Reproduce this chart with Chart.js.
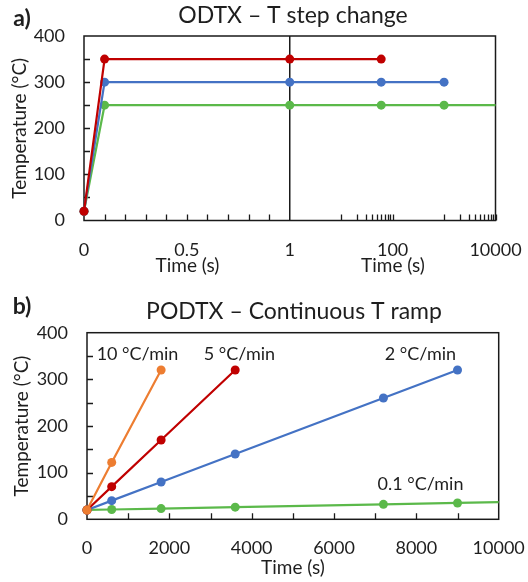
<!DOCTYPE html>
<html><head><meta charset="utf-8">
<script src="https://cdn.jsdelivr.net/npm/chart.js@4"></script>
<style>
html,body{margin:0;padding:0;background:#fff;width:528px;height:582px;overflow:hidden}
canvas{position:absolute;left:0}
#ca{top:0}
#cb{top:275px}
</style></head><body>
<canvas id="ca" width="528" height="275"></canvas>
<canvas id="cb" width="528" height="307"></canvas>
<script>
const FONT = 'Lato, "Open Sans", sans-serif';
const TXT = '#1e1e1e';

// ---------- Panel a data ----------
const aTimeRed = [0, 0.1, 1, 60];
const aTempRed = [20, 350, 350, 350];
const aTimeBlue = [0, 0.1, 1, 60, 1000];
const aTempBlue = [20, 300, 300, 300, 300];
const aTimeGreen = [0, 0.1, 1, 60, 1000, 10000];
const aTempGreen = [20, 250, 250, 250, 250, 250];
const aTickValues = [0, 0.5, 1, 100, 10000];
const aTickLabels = ['0', '0.5', '1', '100', '10000'];
const aMinorTicks = [0.1,0.2,0.3,0.4,0.5,0.6,0.7,0.8,0.9,
  10,20,30,40,50,60,70,80,90,100,1000,2000,3000,4000,5000,6000,7000,8000,9000,10000];
const yTicksMinor = [50,100,150,200,250,300,350];

// ---------- Panel b data ----------
const bTimeOrange = [0, 600, 1800];
const bTempOrange = [20, 122, 320];
const bTimeRed = [0, 600, 1800, 3600];
const bTempRed = [20, 70, 170, 320];
const bTimeBlue = [0, 600, 1800, 3600, 7200, 9000];
const bTempBlue = [20, 40, 80, 140, 260, 320];
const bTimeGreen = [0, 600, 1800, 3600, 7200, 9000, 10000];
const bTempGreen = [20, 21, 23, 26, 32, 35, 36.7];
const bMinorTicks = [1000,2000,3000,4000,5000,6000,7000,8000,9000];
const bRateLabels = ['10 °C/min', '5 °C/min', '2 °C/min', '0.1 °C/min'];
const bRateAnchors = [[1227, 354], [3704, 354], [8100, 354], [8100, 76]];

const C_RED = '#C00000', C_BLUE = '#4472C4', C_GREEN = '#5BB94A', C_ORANGE = '#ED7D31';

// split axis: linear 0..1, then log10 1..10000 mapped onto 1..2
function tx(v) { return v <= 1 ? v : 1 + Math.log10(v) / 4; }

function pts(xs, ys, f) { return xs.map((x, i) => ({x: f ? f(x) : x, y: ys[i]})); }

function ds(data, color, hideLast) {
  return {
    data, borderColor: color, backgroundColor: color,
    pointBackgroundColor: color, pointBorderWidth: 0,
    pointRadius: hideLast ? data.map((d, i) => i === data.length - 1 ? 0 : 4.5) : 4.5,
    borderWidth: 2.2, tension: 0, clip: false
  };
}

function framePlugin(cfg) {
  return {
    id: 'frame',
    beforeDatasetsDraw(chart) {
      const {ctx, chartArea: a, scales} = chart;
      const xs = scales.x, ys = scales.y;
      ctx.save();
      ctx.strokeStyle = '#1a1a1a';
      ctx.lineWidth = 1.3;
      ctx.beginPath();
      cfg.xTicks.forEach(v => {
        const p = Math.round(xs.getPixelForValue(cfg.xf ? cfg.xf(v) : v)) + 0.5;
        ctx.moveTo(p, a.bottom); ctx.lineTo(p, a.bottom - 6);
      });
      yTicksMinor.forEach(v => {
        const p = Math.round(ys.getPixelForValue(v)) + 0.5;
        ctx.moveTo(a.left, p); ctx.lineTo(a.left + 6, p);
      });
      ctx.stroke();
      if (cfg.divider !== undefined) {
        ctx.lineWidth = 1.5;
        const p = xs.getPixelForValue(cfg.divider);
        ctx.beginPath(); ctx.moveTo(p, a.top); ctx.lineTo(p, a.bottom); ctx.stroke();
      }
      ctx.lineWidth = 1.5;
      ctx.strokeRect(a.left, a.top, a.right - a.left, a.bottom - a.top);
      ctx.restore();
    },
    afterDraw(chart) {
      const {ctx, chartArea: a, scales} = chart;
      ctx.save();
      ctx.fillStyle = TXT;
      ctx.textAlign = 'center';
      ctx.textBaseline = 'middle';
      ctx.font = '23px ' + FONT;
      ctx.fillText(cfg.title, cfg.titleX, cfg.titleY);
      ctx.font = 'bold 23px ' + FONT;
      ctx.fillText(cfg.panel, 22, cfg.panelY);
      ctx.font = '19px ' + FONT;
      cfg.xTitles.forEach(t => ctx.fillText('Time (s)', t[0], t[1]));
      ctx.font = '18px ' + FONT;
      if (cfg.labels) {
        cfg.labels.forEach((l, i) => {
          const an = cfg.anchors[i];
          ctx.fillText(l, scales.x.getPixelForValue(an[0]), scales.y.getPixelForValue(an[1]));
        });
      }
      ctx.font = '19px ' + FONT;
      ctx.translate(cfg.yTitleX, (a.top + a.bottom) / 2);
      ctx.rotate(-Math.PI / 2);
      ctx.fillText('Temperature (°C)', 0, 0);
      ctx.restore();
    }
  };
}

function yScale() {
  return {
    min: 0, max: 400,
    ticks: {stepSize: 100, font: {family: FONT, size: 18}, color: TXT, padding: 19},
    grid: {display: false, drawTicks: false},
    border: {display: false},
    afterFit(s) { s.width = 50; s.paddingTop = 0; s.paddingBottom = 0; }
  };
}

// ---------- Chart a ----------
new Chart(document.getElementById('ca'), {
  type: 'line',
  data: {
    datasets: [
      ds(pts(aTimeRed, aTempRed, tx), C_RED),
      ds(pts(aTimeBlue, aTempBlue, tx), C_BLUE),
      ds(pts(aTimeGreen, aTempGreen, tx), C_GREEN, true)
    ]
  },
  options: {
    responsive: false, animation: false,
    layout: {padding: {left: 34, right: 32.5, top: 36, bottom: 0}},
    plugins: {legend: {display: false}, tooltip: {enabled: false}},
    scales: {
      x: {
        type: 'linear', min: 0, max: 2,
        afterBuildTicks(s) { s.ticks = aTickValues.map(v => ({value: tx(v)})); },
        ticks: {
          autoSkip: false, maxRotation: 0, padding: 19,
          font: {family: FONT, size: 18}, color: TXT,
          callback: (v, i) => aTickLabels[i]
        },
        grid: {display: false, drawTicks: false},
        border: {display: false},
        afterFit(s) { s.height = 54.5; s.paddingLeft = 0; s.paddingRight = 0; }
      },
      y: yScale()
    }
  },
  plugins: [framePlugin({
    xTicks: aMinorTicks, xf: tx, divider: 1,
    title: 'ODTX – T step change', titleX: 293, titleY: 16,
    panel: 'a)', panelY: 19,
    xTitles: [[187.5, 266], [393, 266]],
    yTitleX: 20
  })]
});

// ---------- Chart b ----------
new Chart(document.getElementById('cb'), {
  type: 'line',
  data: {
    datasets: [
      ds(pts(bTimeOrange, bTempOrange), C_ORANGE),
      ds(pts(bTimeRed, bTempRed), C_RED),
      ds(pts(bTimeBlue, bTempBlue), C_BLUE),
      ds(pts(bTimeGreen, bTempGreen), C_GREEN, true)
    ]
  },
  options: {
    responsive: false, animation: false,
    layout: {padding: {left: 37, right: 29.3, top: 57.7, bottom: 0}},
    plugins: {legend: {display: false}, tooltip: {enabled: false}},
    scales: {
      x: {
        type: 'linear', min: 0, max: 10000,
        ticks: {stepSize: 2000, autoSkip: false, maxRotation: 0, padding: 18,
          font: {family: FONT, size: 18}, color: TXT, callback: v => String(v)},
        grid: {display: false, drawTicks: false},
        border: {display: false},
        afterFit(s) { s.height = 62.7; s.paddingLeft = 0; s.paddingRight = 0; }
      },
      y: yScale()
    }
  },
  plugins: [framePlugin({
    xTicks: bMinorTicks,
    title: 'PODTX – Continuous T ramp', titleX: 294, titleY: 37,
    panel: 'b)', panelY: 32,
    xTitles: [[293, 293]],
    yTitleX: 21.5,
    labels: bRateLabels, anchors: bRateAnchors
  })]
});
</script>
</body></html>
